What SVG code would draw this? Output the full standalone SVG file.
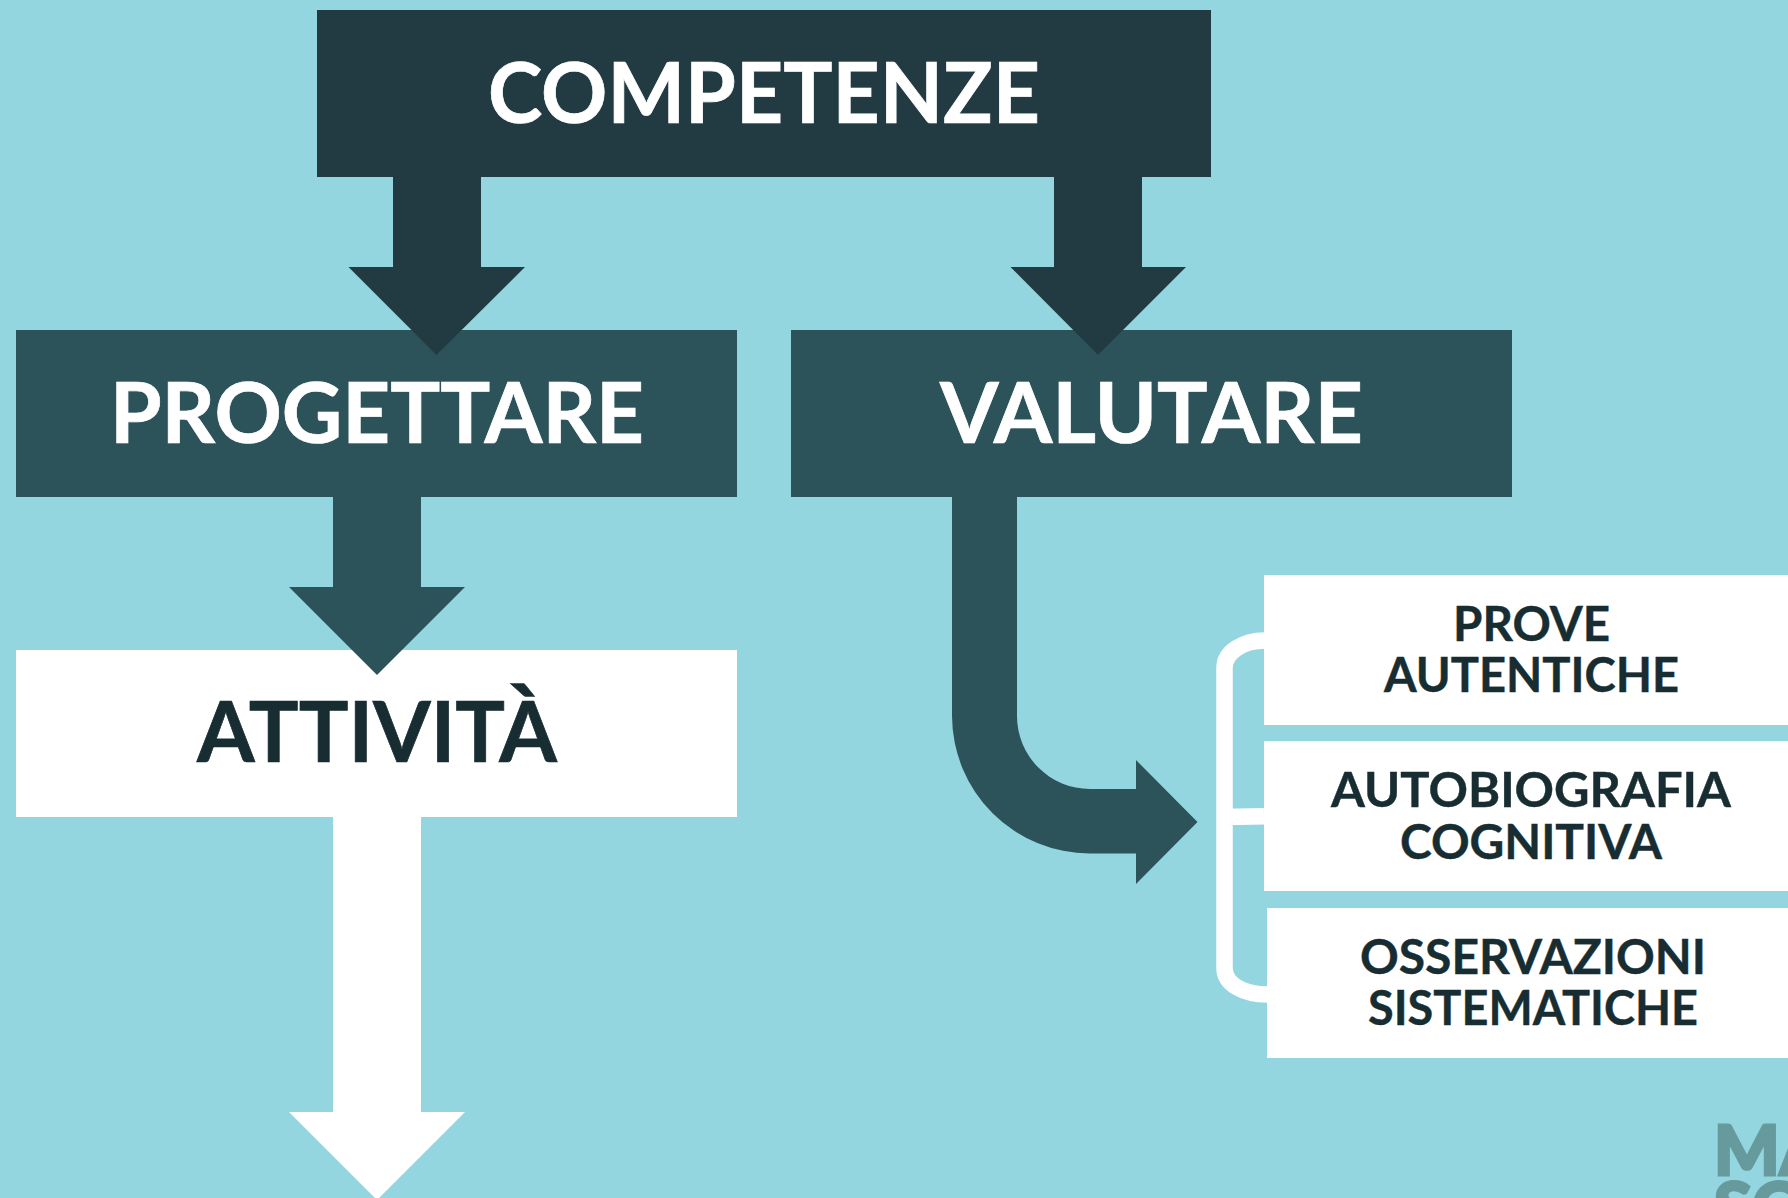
<svg xmlns="http://www.w3.org/2000/svg" width="1788" height="1198" viewBox="0 0 1788 1198">
<style>
text{font-family:"Lato","Noto Sans","Liberation Sans",sans-serif;font-weight:700}
.l{font-size:83.500px;stroke-width:.7px}
.s{font-size:47.500px;stroke-width:.4px}
.w{fill:#fff}
text.w{stroke:#fff}
.d{fill:#182d32;stroke:#182d32}
.a1{fill:#223b42}
.a2{fill:#2d535a}
.m{font-size:69px;font-weight:900;fill:#669a9d;stroke:#669a9d;stroke-width:3px}
</style>
<rect width="1788" height="1198" fill="#94d6df"/>
<g id="logo"><text class="m" x="1714" y="1175">MA</text><text class="m" x="1714" y="1232">SC</text></g>
<g id="competenze"><rect x="317" y="10" width="894" height="167" class="a1"/><text class="l w" x="488" y="123" textLength="552" lengthAdjust="spacingAndGlyphs">COMPETENZE</text></g>
<g id="progettare"><rect x="16" y="330" width="721" height="167" class="a2"/><text class="l w" x="110" y="443" textLength="534" lengthAdjust="spacingAndGlyphs">PROGETTARE</text></g>
<g id="valutare"><rect x="791" y="330" width="721" height="167" class="a2"/><text class="l w" x="940" y="443" textLength="423" lengthAdjust="spacingAndGlyphs">VALUTARE</text></g>
<g id="attivita"><rect x="16" y="650" width="721" height="167" class="w"/><text class="l d" x="197" y="762" textLength="360" lengthAdjust="spacingAndGlyphs">ATTIVITÀ</text></g>
<g id="prove-autentiche"><rect x="1264" y="575" width="524" height="150" class="w"/><text class="s d" x="1453" y="641" textLength="157" lengthAdjust="spacingAndGlyphs">PROVE</text><text class="s d" x="1384" y="692" textLength="295" lengthAdjust="spacingAndGlyphs">AUTENTICHE</text></g>
<g id="autobiografia-cognitiva"><rect x="1264" y="741" width="524" height="150" class="w"/><text class="s d" x="1331" y="807" textLength="400" lengthAdjust="spacingAndGlyphs">AUTOBIOGRAFIA</text><text class="s d" x="1400" y="859" textLength="262" lengthAdjust="spacingAndGlyphs">COGNITIVA</text></g>
<g id="osservazioni-sistematiche"><rect x="1267" y="908" width="521" height="150" class="w"/><text class="s d" x="1360" y="974" textLength="346" lengthAdjust="spacingAndGlyphs">OSSERVAZIONI</text><text class="s d" x="1368" y="1025" textLength="330" lengthAdjust="spacingAndGlyphs">SISTEMATICHE</text></g>
<g id="connectors">
<path class="a1" d="M393 177H481V267H525L436.500 355L348.500 267H393Z"/>
<path class="a1" d="M1054 177H1142V267H1186L1098 355L1010.500 267H1054Z"/>
<path class="a2" d="M333 497H421V587H465L377 675L289 587H333Z"/>
<path class="w" d="M333 817H421V1112H465L377 1200L289 1112H333Z"/>
<path class="a2" d="M952 497H1017V716A73 73 0 0 0 1090 789H1136V760L1197.500 822L1136 884V853.500H1090A138 138 0 0 1 952 716Z"/>
<path d="M1265 640.500C1243 640.500 1224.500 652 1224.500 668V968C1224.500 984 1243 994.500 1268 994.500M1224.500 817L1264 816.200" fill="none" stroke="#fff" stroke-width="16.500"/>
</g>
</svg>
